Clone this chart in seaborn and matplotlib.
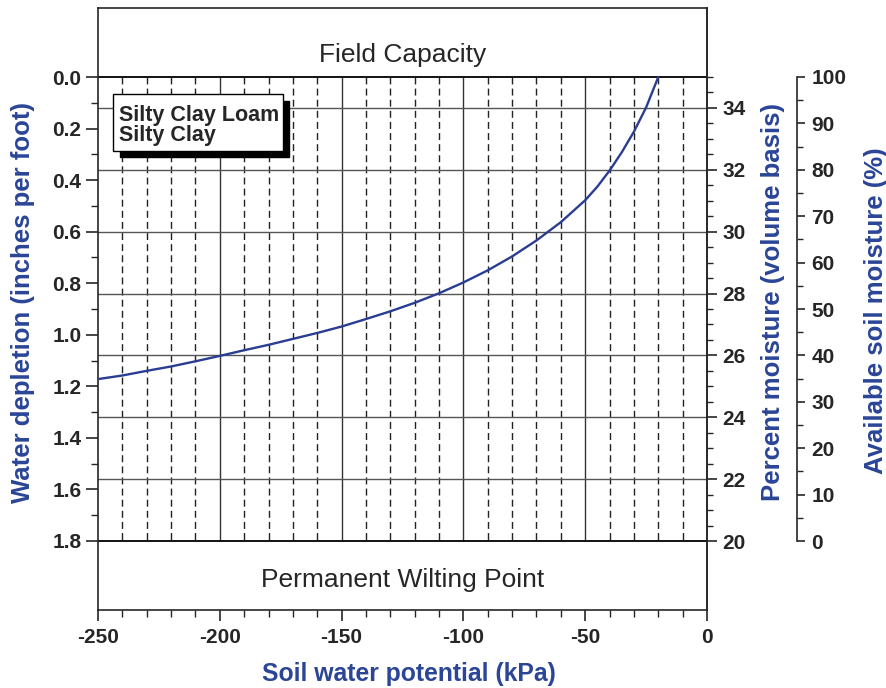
import numpy as np
import pandas as pd
import matplotlib
matplotlib.use("Agg")
import matplotlib.pyplot as plt
from matplotlib.patches import Rectangle
from matplotlib.ticker import FixedLocator, FormatStrFormatter
import seaborn as sns

# curve (kPa vs inches per foot depletion)
potential = [-250, -240, -230, -220, -210, -200, -190, -180, -170, -160, -150,
             -140, -130, -120, -110, -100, -90, -80, -70, -60, -50, -45, -40,
             -35, -30, -25, -20]
depletion = [1.172, 1.158, 1.140, 1.123, 1.103, 1.082, 1.060, 1.039, 1.016,
             0.993, 0.968, 0.939, 0.909, 0.876, 0.839, 0.797, 0.750, 0.696,
             0.634, 0.563, 0.478, 0.425, 0.363, 0.292, 0.212, 0.118, 0.0]

depl_ticks = [0.0, 0.2, 0.4, 0.6, 0.8, 1.0, 1.2, 1.4, 1.6, 1.8]
pct_ticks = [20, 22, 24, 26, 28, 30, 32, 34]
avail_ticks = [0, 10, 20, 30, 40, 50, 60, 70, 80, 90, 100]
x_ticks = [-250, -200, -150, -100, -50, 0]
soil_labels = ["Silty Clay Loam", "Silty Clay"]

blue = "#2b4597"
line_blue = "#2a3d92"

sns.set_theme(style="ticks")
plt.rcParams["font.family"] = ["Liberation Sans", "DejaVu Sans"]
plt.rcParams["axes.linewidth"] = 1.2
plt.rcParams["axes.unicode_minus"] = False

df = pd.DataFrame({"potential": potential, "depletion": depletion})

fig = plt.figure(figsize=(8.86, 6.88), dpi=100)
ax = fig.add_axes([98 / 886, 78 / 688, 609 / 886, 602 / 688])
ax.set_xlim(-250, 0)
ax.set_ylim(2.068, -0.268)

# grid: vertical lines only inside the 0 - 1.8 band
for v in range(-240, 0, 10):
    if v % 50 == 0:
        ax.vlines(v, 0, 1.8, color="#333333", lw=1.0, zorder=1)
    else:
        ax.vlines(v, 0, 1.8, color="#222222", lw=1.0, linestyles=(0, (5, 3)), zorder=1)

# horizontal lines at percent moisture levels (35% = 0 depletion, 20% = 1.8)
for p in pct_ticks[1:]:
    ax.axhline((35 - p) * 0.12, color="#555555", lw=1.0, zorder=1)
ax.axhline(0.0, color="black", lw=1.3, zorder=2)
ax.axhline(1.8, color="black", lw=1.3, zorder=2)

sns.lineplot(data=df, x="potential", y="depletion", ax=ax, color=line_blue,
             lw=1.7, zorder=4)

ax.text(-125, -0.086, "Field Capacity", ha="center", va="center", fontsize=19)
ax.text(-125, 1.950, "Permanent Wilting Point", ha="center", va="center", fontsize=19)

# label box with shadow
ax.add_patch(Rectangle((-241.0, 0.092), 69.5, 0.219, facecolor="black",
                       edgecolor="black", zorder=5))
ax.add_patch(Rectangle((-243.7, 0.067), 69.5, 0.219, facecolor="white",
                       edgecolor="black", lw=1.0, zorder=6))
ax.text(-241.3, 0.171, soil_labels[0], ha="left", va="baseline",
        fontsize=15.5, fontweight="bold", zorder=7)
ax.text(-241.3, 0.248, soil_labels[1], ha="left", va="baseline",
        fontsize=15.5, fontweight="bold", zorder=7)

ax.xaxis.set_major_locator(FixedLocator(x_ticks))
ax.xaxis.set_minor_locator(FixedLocator(list(range(-250, 1, 10))))
ax.yaxis.set_major_locator(FixedLocator(depl_ticks))
ax.yaxis.set_minor_locator(FixedLocator([i / 10 for i in range(1, 18, 2)]))
ax.yaxis.set_major_formatter(FormatStrFormatter("%.1f"))
ax.tick_params(axis="y", which="major", direction="out", length=8.5, width=1.2, labelsize=15, pad=3.5)
ax.tick_params(axis="x", which="major", direction="out", length=7.7, width=1.2, labelsize=15, pad=5.5)
ax.tick_params(which="minor", direction="out", length=5, width=1.0)
for lab in ax.get_xticklabels() + ax.get_yticklabels():
    lab.set_fontweight("bold")
ax.set_xlabel("Soil water potential (kPa)", color=blue, fontsize=17.8, fontweight="bold")
ax.set_ylabel("Water depletion (inches per foot)", color=blue, fontsize=18.5, fontweight="bold")
ax.xaxis.set_label_coords(0.51, -0.086)
ax.yaxis.set_label_coords(-0.104, 0.511)
for s in ax.spines.values():
    s.set_linewidth(1.2)

# percent moisture axis on the plot's right edge
ax2 = ax.twinx()
ax2.set_ylim(17.77, 37.23)
for s in ["top", "left", "bottom"]:
    ax2.spines[s].set_visible(False)
ax2.spines["right"].set_linewidth(1.2)
ax2.yaxis.set_major_locator(FixedLocator(pct_ticks))
ax2.yaxis.set_minor_locator(FixedLocator([20 + 0.5 * i for i in range(31) if i % 4 != 0]))
ax2.tick_params(which="major", direction="out", length=7.5, width=1.2, labelsize=15, pad=3.6)
ax2.tick_params(which="minor", direction="out", length=4.5, width=1.0)
for lab in ax2.get_yticklabels():
    lab.set_fontweight("bold")
ax2.set_ylabel("Percent moisture (volume basis)", color=blue, fontsize=18.5,
               fontweight="bold", rotation=90)
ax2.yaxis.set_label_coords(1.088, 0.511)

# available soil moisture axis further right
ax3 = ax.twinx()
ax3.set_ylim(-14.87, 114.87)
for s in ["top", "left", "bottom"]:
    ax3.spines[s].set_visible(False)
ax3.spines["right"].set_position(("axes", 1 + 90 / 609))
ax3.spines["right"].set_bounds(0, 100)
ax3.spines["right"].set_linewidth(1.2)
ax3.yaxis.set_major_locator(FixedLocator(avail_ticks))
ax3.yaxis.set_minor_locator(FixedLocator(list(range(5, 100, 10))))
ax3.tick_params(which="major", direction="out", length=6, width=1.2, labelsize=15, pad=4.5)
ax3.tick_params(which="minor", direction="out", length=4, width=1.0)
for lab in ax3.get_yticklabels():
    lab.set_fontweight("bold")
ax3.set_ylabel("Available soil moisture (%)", color=blue, fontsize=18.5,
               fontweight="bold", rotation=90)
ax3.yaxis.set_label_coords(1.257, 0.498)

fig.savefig("out.png", dpi=100)
